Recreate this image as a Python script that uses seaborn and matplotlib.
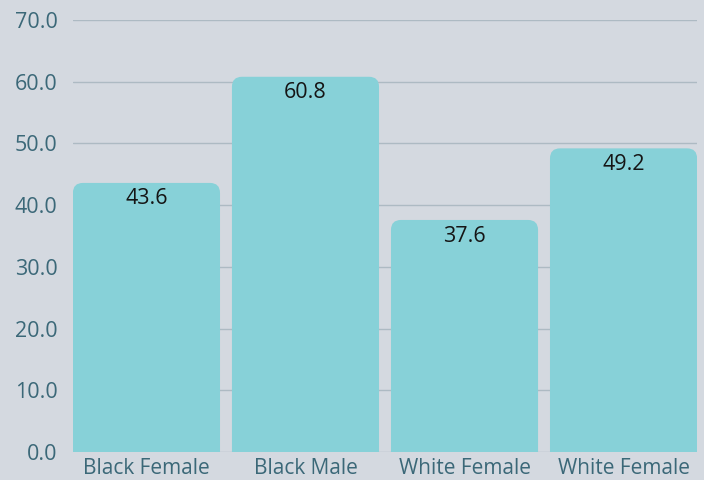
import matplotlib
matplotlib.use("Agg")
import matplotlib.pyplot as plt
import seaborn as sns
import pandas as pd
from matplotlib.patches import FancyBboxPatch

categories = ["Black Female", "Black Male", "White Female", "White Female"]
values = [43.6, 60.8, 37.6, 49.2]
yticks = [0, 10, 20, 30, 40, 50, 60, 70]

bg = "#d4d9e0"
bar_color = "#87d1d8"
tick_color = "#3b6878"

sns.set_theme(style="white")
plt.rcParams["font.family"] = ["Open Sans", "DejaVu Sans"]

df = pd.DataFrame({"pos": [str(i) for i in range(len(categories))], "value": values})

fig = plt.figure(figsize=(7.04, 4.8), dpi=100, facecolor=bg)
ax = fig.add_axes([73/704, 28/480, 624/704, 432/480])
ax.set_facecolor(bg)

sns.barplot(data=df, x="pos", y="value", color=bar_color, saturation=1,
            width=0.925, ax=ax, zorder=2)

ax.set_ylim(0, 70)
ax.set_xlim(-0.462, len(categories) - 1 + 0.462)

# rounded top corners
px_per_x = 624 / (ax.get_xlim()[1] - ax.get_xlim()[0])
px_per_y = 432 / 70
r_px = 10
r_x = r_px / px_per_x
aspect = (r_px / px_per_y) / r_x
for p in list(ax.patches):
    x0, w, h = p.get_x(), p.get_width(), p.get_height()
    ext = 3
    fb = FancyBboxPatch((x0, -ext), w, h + ext,
                        boxstyle=f"round,pad=0,rounding_size={r_x}",
                        mutation_aspect=aspect,
                        facecolor=bar_color, edgecolor="none", zorder=2,
                        clip_on=True)
    ax.add_patch(fb)
    p.remove()

for i, v in enumerate(values):
    ax.text(i, v - 2.6, f"{v:.1f}", ha="center", va="center",
            fontsize=15.5, color="#151515", zorder=3)

ax.set_yticks(yticks)
ax.set_yticklabels([f"{t:.1f}" for t in yticks])
ax.set_xticks(range(len(categories)))
ax.set_xticklabels(categories)
ax.grid(axis="y", color="#adbac3", linewidth=1, zorder=0)
ax.set_axisbelow(True)
ax.tick_params(axis="y", length=0, pad=11, labelsize=15.5, labelcolor=tick_color)
ax.tick_params(axis="x", length=0, pad=4, labelsize=15, labelcolor=tick_color)
ax.set_xlabel("")
ax.set_ylabel("")
for s in ax.spines.values():
    s.set_visible(False)

fig.savefig("out.png", dpi=100, facecolor=bg)
